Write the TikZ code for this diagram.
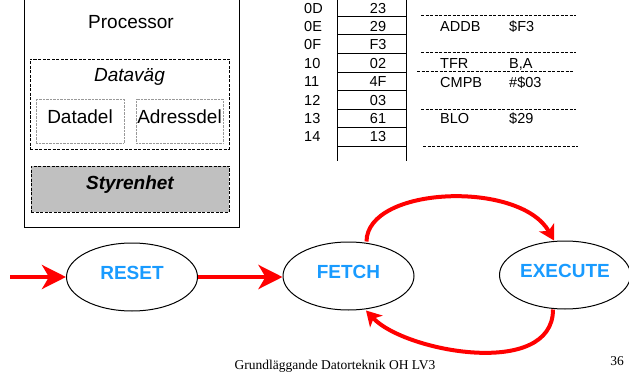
\documentclass[tikz,border=0pt]{standalone}
\usepackage{fontspec}
\setmainfont{Liberation Sans}
\newfontfamily\fussfont{Liberation Serif}
\usetikzlibrary{arrows.meta}
\usetikzlibrary{shapes.geometric}
\usetikzlibrary{positioning}
\definecolor{zustandblau}{RGB}{25,155,255}
\definecolor{styrgrau}{RGB}{192,192,192}

\begin{document}
\begin{tikzpicture}[x=1pt,y=-1pt,
    zustand/.style={ellipse, draw, line width=1pt, minimum width=131pt, minimum height=68pt,
        inner sep=0pt, text depth=8pt, text=zustandblau, font=\fontsize{19}{22}\selectfont\bfseries},
    pfeil/.style={draw=red, line width=4.5pt, -{Stealth[length=24pt,width=24pt,inset=7pt]}},
    bogen/.style={draw=red, line width=4pt, -{Stealth[length=15pt,width=17pt,inset=4pt]}},
    strich/.style={dash pattern=on 3pt off 1.5pt, line width=0.6pt},
    delbox/.style={draw=gray!80, densely dotted, minimum width=88pt, minimum height=44pt,
        inner sep=0pt, text depth=8pt, font=\fontsize{19}{22}\selectfont},
    tabtext/.style={inner sep=0pt, text height=10.4pt, text depth=0pt, font=\fontsize{14.5}{17}\selectfont},
    fuss/.style={font=\fussfont\fontsize{13.5}{16}\selectfont}]

    \useasboundingbox (0,0) rectangle (629,377);

    % Prozessor mit Datenweg und Steuerwerk
    \draw[line width=1pt] (24,0) -- (24,227) -- (239,227) -- (239,0);
    \node[font=\fontsize{19}{22}\selectfont] (proc) at (131,22) {Processor};
    \node[draw, strich, minimum width=199pt, minimum height=90pt] (datavag) at (129.5,104) {};
    \node[font=\fontsize{19}{22}\selectfont\itshape] (datavagtext) at (129.5,77) {Dataväg};
    \node[delbox] (datadel) at (80,121) {Datadel};
    \node[delbox, minimum width=87pt] (adressdel) at (179.5,121) {Adressdel};
    \node[draw, strich, fill=styrgrau, minimum width=198pt, minimum height=46pt, inner sep=0pt,
        text depth=12pt, font=\fontsize{19}{22}\selectfont\bfseries\itshape] (styr) at (130,189) {Styrenhet};

    % Speicherinhalt: Adresse/Wert
    \draw[thick] (337,0) -- (337,161);
    \draw[thick] (406,0) -- (406,161);
    \foreach \a/\v [count=\i] in {0D/23, 0E/29, 0F/F3, 10/02, 11/4F, 12/03, 13/61, 14/13} {
        \node[tabtext, anchor=west] (adr\i) at (304,{8+18.4*(\i-1)}) {\a};
        \node[tabtext] (wert\i) at (378,{8+18.4*(\i-1)}) {\v};
        \draw (337,{16+18.57*(\i-1)}) -- (406,{16+18.57*(\i-1)}); % Zeilentrenner
    }

    % Befehle mit gestrichelten Trennlinien
    \foreach \y/\xa/\xb in {15/421/576, 52/421/576, 71/417/573, 109/421/576, 146/423/578} {
        \draw[strich] (\xa,\y) -- (\xb,\y);
    }
    \foreach \m/\o/\y [count=\i] in {ADDB/\$F3/26, TFR/{B,A}/63, CMPB/\#\$03/82, BLO/\$29/118} {
        \node[tabtext, anchor=west] (befehl\i) at (440,\y) {\m};
        \node[tabtext, anchor=west] (operand\i) at (509,\y) {\o};
    }

    % Zustandsdiagramm
    \coordinate (start) at (10,277);
    \node[zustand] (reset) at (132,277) {RESET};
    \node[zustand] (fetch) at (348.5,276) {FETCH};
    \node[zustand] (execute) at (565,275) {EXECUTE};
    \draw[pfeil] (start) -- (reset.west);
    \draw[pfeil] (reset.east) -- (reset.east -| fetch.west);
    \draw[bogen] ([xshift=18pt]fetch.north) .. controls (367,186) and (520,180) .. ([xshift=-11pt]execute.north);
    \draw[bogen] ([xshift=-12pt]execute.south) .. controls (553,379) and (405,352) .. ([xshift=17.5pt]fetch.south);

    % Fusszeile
    \node[fuss] (fusstext) at (335,366) {Grundläggande Datorteknik OH LV3};
    \node[fuss] (seite) at (617,361) {36};
\end{tikzpicture}
\end{document}
